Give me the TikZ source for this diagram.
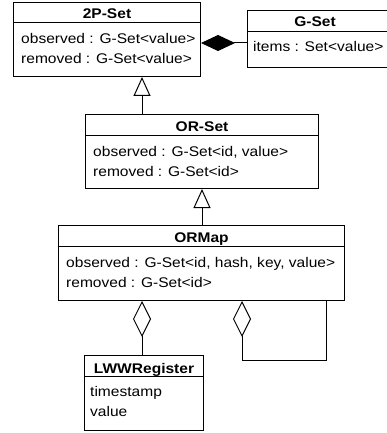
\documentclass[tikz,border=0pt]{standalone}
\usepackage{fontspec}
\setmainfont{Liberation Sans}
\usetikzlibrary{arrows.meta,calc}
\begin{document}
\begin{tikzpicture}[x=1pt,y=-1pt,
  cls/.style={draw,line width=1pt,rectangle,inner sep=0pt,anchor=north west,fill=white},
  ttl/.style={font=\fontsize{14}{16}\selectfont\bfseries,anchor=base,inner sep=0pt,xscale=1.11,transform shape},
  att/.style={font=\fontsize{14}{16}\selectfont,anchor=base west,inner sep=0pt,xscale=1.11,transform shape},
  sepline/.style={line width=1pt},
  conn/.style={line width=1pt,line join=miter},
  gen/.style={conn,-{Triangle[open,length=19pt,width=17pt,line width=1pt]}},
  comp/.style={conn,-{Diamond[length=34pt,width=16pt,line width=1pt]}},
  agg/.style={conn,-{Diamond[open,length=36pt,width=18pt,line width=1pt]}}
]
\useasboundingbox (0,0) rectangle (386,433);
\fill[white] (0,0) rectangle (386,433);

% 2P-Set
\node[cls,minimum width=187pt,minimum height=74pt] (twop) at (13,2) {};
\draw[sepline] ($(twop.north west)+(0,21)$) -- ($(twop.north east)+(0,21)$);
\node[ttl] (twopt) at ($(twop.north)+(0,17)$) {2P-Set};
\node[att] (twopa) at ($(twop.north west)+(8,42)$) {observed : G-Set<value>};
\node[att] (twopb) at ($(twop.north west)+(8,62)$) {removed : G-Set<value>};

% G-Set
\node[cls,minimum width=143pt,minimum height=57pt] (gset) at (247,10) {};
\draw[sepline] ($(gset.north west)+(0,22)$) -- ($(gset.north east)+(0,22)$);
\node[ttl] (gsett) at ($(gset.north west)+(68,17)$) {G-Set};
\node[att] (gseta) at ($(gset.north west)+(6,42)$) {items : Set<value>};

% OR-Set
\node[cls,minimum width=233pt,minimum height=74pt] (orset) at (85,114) {};
\draw[sepline] ($(orset.north west)+(0,21)$) -- ($(orset.north east)+(0,21)$);
\node[ttl] (orsett) at ($(orset.north)+(0,17)$) {OR-Set};
\node[att] (orseta) at ($(orset.north west)+(8,42)$) {observed : G-Set<id, value>};
\node[att] (orsetb) at ($(orset.north west)+(8,62)$) {removed : G-Set<id>};

% ORMap
\node[cls,minimum width=286pt,minimum height=75pt] (ormap) at (58,225) {};
\draw[sepline] ($(ormap.north west)+(0,21)$) -- ($(ormap.north east)+(0,21)$);
\node[ttl] (ormapt) at ($(ormap.north)+(0,17)$) {ORMap};
\node[att] (ormapa) at ($(ormap.north west)+(8,42)$) {observed : G-Set<id, hash, key, value>};
\node[att] (ormapb) at ($(ormap.north west)+(8,62)$) {removed : G-Set<id>};

% LWWRegister
\node[cls,minimum width=119pt,minimum height=75pt] (lww) at (84,355) {};
\draw[sepline] ($(lww.north west)+(0,21)$) -- ($(lww.north east)+(0,21)$);
\node[ttl] (lwwt) at ($(lww.north)+(0,18)$) {LWWRegister};
\node[att] (lwwa) at ($(lww.north west)+(6,41)$) {timestamp};
\node[att] (lwwb) at ($(lww.north west)+(6,61)$) {value};

% connectors
\draw[comp] ($(gset.north west)+(0,33)$) -- ($(twop.north east)+(0,41)$);
\draw[gen] ($(orset.north west)+(57,0)$) -- ($(twop.south west)+(129,0)$);
\draw[gen] ($(ormap.north west)+(144,0)$) -- ($(orset.south west)+(117,0)$);
\draw[agg] ($(lww.north west)+(58,0)$) -- ($(ormap.south west)+(84,0)$);
\draw[agg] ($(ormap.south west)+(268,0)$) |- ($(ormap.south west)+(184,59)$) -- ($(ormap.south west)+(184,0)$);
\end{tikzpicture}
\end{document}
